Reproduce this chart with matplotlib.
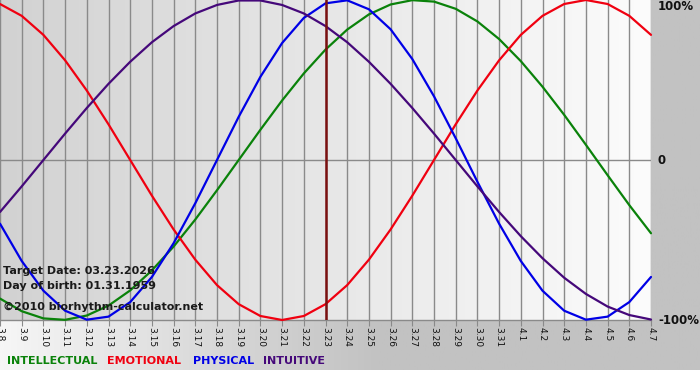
import numpy as np
import matplotlib
matplotlib.use("Agg")
import matplotlib.pyplot as plt
from matplotlib.colors import LinearSegmentedColormap

# ---- data ----
dates = ["3.8", "3.9", "3.10", "3.11", "3.12", "3.13", "3.14", "3.15", "3.16", "3.17",
         "3.18", "3.19", "3.20", "3.21", "3.22", "3.23", "3.24", "3.25", "3.26", "3.27",
         "3.28", "3.29", "3.30", "3.31", "4.1", "4.2", "4.3", "4.4", "4.5", "4.6", "4.7"]

intellectual = [-0.866, -0.945, -0.990, -0.999, -0.972, -0.910, -0.815, -0.690, -0.541, -0.372,
                -0.189, 0.000, 0.189, 0.372, 0.541, 0.690, 0.815, 0.910, 0.972, 0.999,
                0.990, 0.945, 0.866, 0.756, 0.618, 0.458, 0.282, 0.095, -0.095, -0.282, -0.458]
emotional = [0.975, 0.901, 0.782, 0.623, 0.434, 0.223, 0.000, -0.223, -0.434, -0.623,
             -0.782, -0.901, -0.975, -1.000, -0.975, -0.901, -0.782, -0.623, -0.434, -0.223,
             0.000, 0.223, 0.434, 0.623, 0.782, 0.901, 0.975, 1.000, 0.975, 0.901, 0.782]
physical = [-0.398, -0.631, -0.817, -0.942, -0.998, -0.979, -0.888, -0.731, -0.520, -0.270,
            0.000, 0.270, 0.520, 0.731, 0.888, 0.979, 0.998, 0.942, 0.817, 0.631,
            0.398, 0.136, -0.136, -0.398, -0.631, -0.817, -0.942, -0.998, -0.979, -0.888, -0.731]
intuitive = [-0.325, -0.165, 0.000, 0.165, 0.325, 0.476, 0.614, 0.736, 0.837, 0.916,
             0.969, 0.997, 0.997, 0.969, 0.916, 0.837, 0.736, 0.614, 0.476, 0.325,
             0.165, 0.000, -0.165, -0.325, -0.476, -0.614, -0.736, -0.837, -0.916, -0.969, -0.997]

target_label = "3.23"
target_text = "Target Date: 03.23.2026"
birth_text = "Day of birth: 01.31.1959"
copy_text = "\u00a92010 biorhythm-calculator.net"
y_labels = ["100%", "0", "-100%"]
legend_names = ["INTELLECTUAL", "EMOTIONAL", "PHYSICAL", "INTUITIVE"]

# ---- styles ----
C_INT = "#0a820a"
C_EMO = "#f00010"
C_PHY = "#0000e6"
C_ITU = "#45087a"
GRID = "#8a8a8a"

W, H = 700, 380
fig = plt.figure(figsize=(W / 100, H / 100), dpi=100)

# background of whole figure: horizontal gradient
bg = fig.add_axes([0, 0, 1, 1], zorder=-10)
bg.set_axis_off()
cm_bg = LinearSegmentedColormap.from_list("bg", ["#f6f6f6", "#c2c2c2", "#c2c2c2"])
grad = np.linspace(0, 1, 256)[None, :]
bg.imshow(grad, cmap=cm_bg, aspect="auto", extent=[0, 1, 0, 1], vmin=0, vmax=1.08)
bg.axhspan(0, 10 / H, color="#ffffff", lw=0)
bg.set_xlim(0, 1)
bg.set_ylim(0, 1)

# main plot axes
pl, pr, pt, pb = 0, 651, 0, 320
ax = fig.add_axes([pl / W, (H - pb) / H, (pr - pl) / W, (pb - pt) / H])
x = np.arange(len(dates))
ax.set_xlim(0, len(dates) - 1)
ax.set_ylim(-1, 1)

cm_pl = LinearSegmentedColormap.from_list("pl", ["#d2d2d2", "#fcfcfc"])
ax.imshow(grad, cmap=cm_pl, aspect="auto", extent=[0, len(dates) - 1, -1, 1], zorder=0)

for xi in x:
    ax.axvline(xi, color=GRID, lw=1.0, zorder=1)
ax.axhline(0, color=GRID, lw=1.0, zorder=1)

for vals, col in [(intellectual, C_INT), (emotional, C_EMO), (physical, C_PHY), (intuitive, C_ITU)]:
    ax.plot(x, vals, color=col, lw=1.6, zorder=3, solid_capstyle="round",
            solid_joinstyle="round", clip_on=False)

ax.axvline(dates.index(target_label), color="#7a1010", lw=1.8, zorder=4)

for s in ["top", "left", "right"]:
    ax.spines[s].set_visible(False)
ax.spines["bottom"].set_color(GRID)
ax.spines["bottom"].set_linewidth(1.0)
ax.set_xticks(x)
ax.set_xticklabels(dates, rotation=270, fontsize=6.5, color="#111111")
ax.tick_params(axis="x", length=4, color=GRID, pad=1)
ax.set_yticks([])

# y labels on the right
for lab, yp in zip(y_labels, [7, 161, 321]):
    fig.text(658 / W, 1 - yp / H, lab, ha="left", va="center", fontsize=8.5,
             fontweight="bold", color="#111111")

# overlay text
for txt, yp in [(target_text, 271), (birth_text, 286), (copy_text, 307)]:
    fig.text(3 / W, 1 - yp / H, txt, ha="left", va="center", fontsize=8,
             fontweight="bold", color="#1a1a1a")

# legend text
cols = [C_INT, C_EMO, C_PHY, C_ITU]
xpos = [7, 107, 193, 263]
for name, col, xp in zip(legend_names, cols, xpos):
    fig.text(xp / W, 1 - 361 / H, name, ha="left", va="center", fontsize=8,
             fontweight="bold", color=col)

fig.savefig("out.png", dpi=100)
